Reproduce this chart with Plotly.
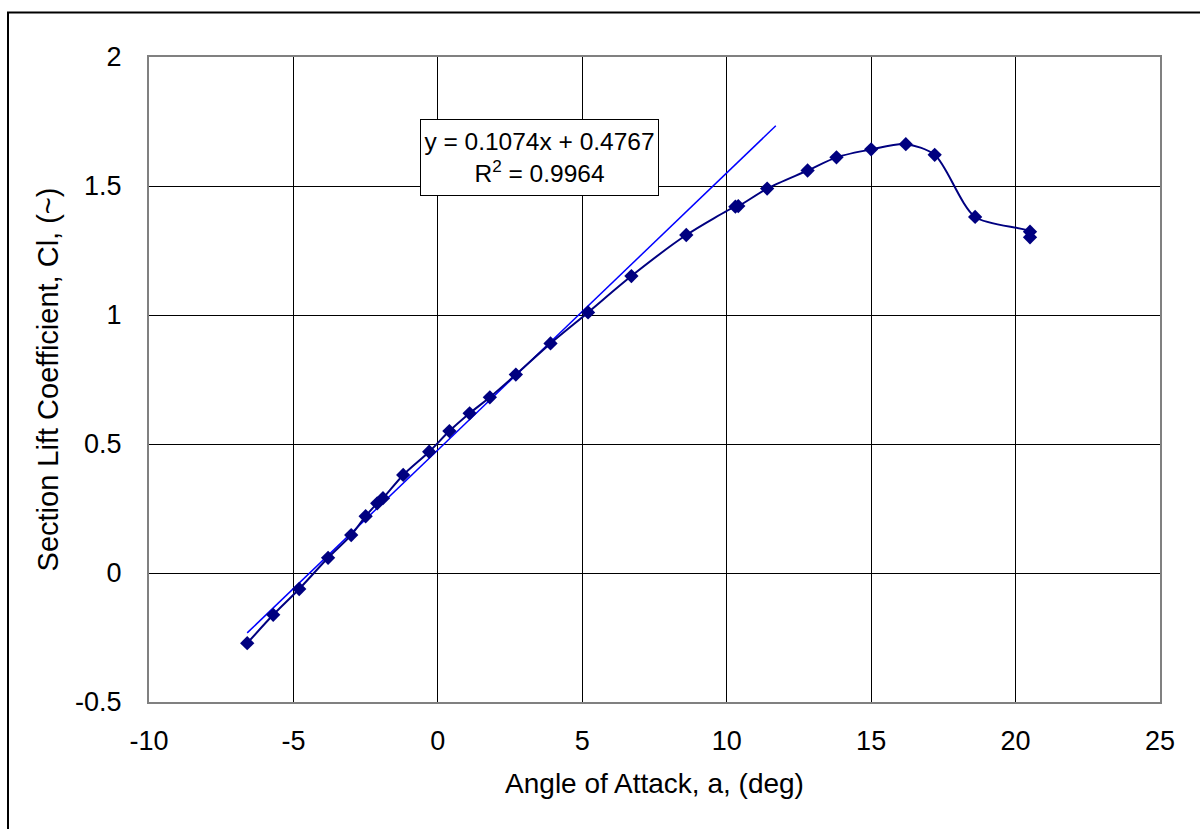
import plotly.graph_objects as go

# Data
alpha = [-6.6, -5.7, -4.8, -3.8, -3.0, -2.5, -2.1, -1.9, -1.2, -0.3, 0.4, 1.1, 1.8, 2.7,
         3.9, 5.2, 6.7, 8.6, 10.3, 10.4, 11.4, 12.8, 13.8, 15.0, 16.2, 17.2, 18.6, 20.5, 20.5]
cl = [-0.272, -0.162, -0.062, 0.059, 0.147, 0.220, 0.270, 0.290, 0.380, 0.470, 0.550, 0.619,
      0.681, 0.769, 0.890, 1.010, 1.151, 1.310, 1.420, 1.422, 1.490, 1.560, 1.611, 1.642,
      1.662, 1.621, 1.380, 1.323, 1.301]

# Linear trendline (from the chart's equation)
fit_slope = 0.1074
fit_intercept = 0.4767
fit_x = [-6.6, 11.7]
fit_y = [fit_slope * v + fit_intercept for v in fit_x]

x_tickvals = [-10, -5, 0, 5, 10, 15, 20, 25]
x_ticktext = ["-10", "-5", "0", "5", "10", "15", "20", "25"]
y_tickvals = [-0.5, 0, 0.5, 1, 1.5, 2]
y_ticktext = ["-0.5", "0", "0.5", "1", "1.5", "2"]

FONT = "Liberation Sans, Arial, sans-serif"

fig = go.Figure()
fig.add_trace(go.Scatter(
    x=fit_x, y=fit_y, mode="lines",
    line=dict(color="#0000FF", width=1.5),
    showlegend=False, hoverinfo="skip"))
fig.add_trace(go.Scatter(
    x=alpha, y=cl, mode="lines+markers",
    line=dict(color="#000080", width=2, shape="spline", smoothing=0.8),
    marker=dict(symbol="diamond", size=11, color="#000080"),
    showlegend=False))

axis_common = dict(
    showgrid=True, gridcolor="#000000", gridwidth=1,
    zeroline=False, showline=True, linecolor="#808080", linewidth=2, mirror=True,
    ticks="", tickfont=dict(family=FONT, size=27, color="#000000"),
)

fig.update_xaxes(range=[-10, 25], tickvals=x_tickvals, ticktext=x_ticktext,
                 ticklabelstandoff=14,
                 title=dict(text="Angle of Attack, a, (deg)",
                            font=dict(family=FONT, size=28, color="#000000"),
                            standoff=18),
                 **axis_common)
fig.update_yaxes(range=[-0.5, 2], tickvals=y_tickvals, ticktext=y_ticktext,
                 ticklabelstandoff=20,
                 title=dict(text="Section Lift Coefficient, Cl, (~)",
                            font=dict(family=FONT, size=29, color="#000000"),
                            standoff=8),
                 **axis_common)

fig.add_annotation(
    x=3.53, y=1.61, xref="x", yref="y",
    text="y = 0.1074x + 0.4767<br>R<sup>2</sup> = 0.9964",
    showarrow=False, xanchor="center", yanchor="middle",
    font=dict(family=FONT, size=24.5, color="#000000"),
    bgcolor="#FFFFFF", bordercolor="#000000", borderwidth=1, borderpad=3,
    width=231, height=69, align="center", valign="middle")

# Outer chart border
fig.add_shape(type="rect", xref="paper", yref="paper",
              x0=(8 - 149) / 1011, x1=(1215 - 149) / 1011,
              y0=(702 - 845) / 645, y1=(702 - 12.5) / 645,
              line=dict(color="#000000", width=2), fillcolor="rgba(0,0,0,0)", layer="below")

fig.update_layout(
    width=1200, height=829,
    margin=dict(l=149, r=40, t=57, b=127),
    paper_bgcolor="#FFFFFF", plot_bgcolor="#FFFFFF",
    font=dict(family=FONT, color="#000000"),
)

fig.write_html("out.html")
